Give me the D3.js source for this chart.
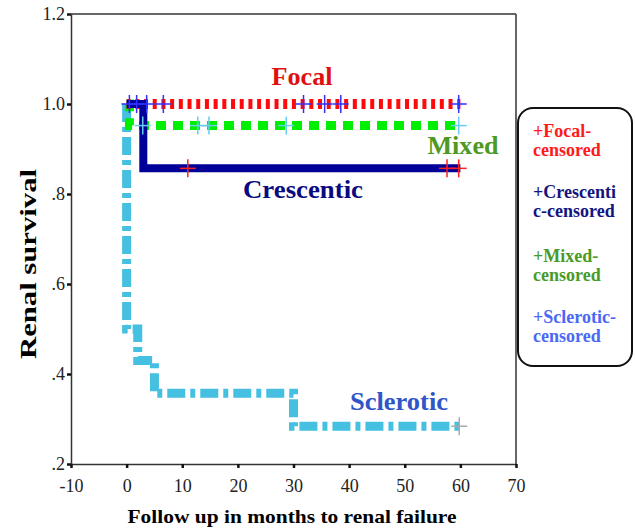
<!DOCTYPE html>
<html>
<head>
<meta charset="utf-8">
<script src="https://cdn.jsdelivr.net/npm/d3@7"></script>
<style>
  body { margin: 0; background: #fff; }
  svg text { font-family: "Liberation Serif", "DejaVu Serif", "Times New Roman", serif; }
</style>
</head>
<body>
<div id="chart"></div>
<script>
// Kaplan-Meier steps (months, survival)
var focalTime = [0, 60],
    focalSurv = [1.0, 1.0];
var crescTime = [0, 3, 60],
    crescSurv = [1.0, 0.857, 0.857];
var mixedTime = [0, 0.5, 60],
    mixedSurv = [1.0, 0.952, 0.952];
var sclerTime = [0, 0, 2, 5, 30, 60],
    sclerSurv = [1.0, 0.5, 0.43, 0.357, 0.284, 0.284];

// censored marks (months)
var focalCensor = [0.5, 1.8, 3.6, 6.6, 31.8, 35.6, 38.5, 59.7];
var crescCensor = [11, 57.6, 59.7];
var mixedCensor = [2.9, 12.8, 14.8, 28.7, 59.7];
var sclerCensor = [59.8];

var xTicks = [-10, 0, 10, 20, 30, 40, 50, 60, 70];
var yTicks = [0.2, 0.4, 0.6, 0.8, 1.0, 1.2];
var yTickLabels = [".2", ".4", ".6", ".8", "1.0", "1.2"];

var legendLines = [
  ["+Focal-", "censored"],
  ["+Crescenti", "c-censored"],
  ["+Mixed-", "censored"],
  ["+Sclerotic-", "censored"]
];
var legendColors = ["#ff1a1a", "#141480", "#4a9a26", "#4a68f5"];

var SERIF = "'Liberation Serif', 'DejaVu Serif', 'Times New Roman', serif";
var W = 635, H = 528;

var svg = d3.select("#chart").append("svg")
    .attr("width", W)
    .attr("height", H)
    .attr("font-family", SERIF);

var x = d3.scaleLinear().domain([-10, 70]).range([71, 516]);
var y = d3.scaleLinear().domain([0.2, 1.2]).range([464, 14]);

// frame (top + right)
svg.append("line")
    .attr("x1", x(-10)).attr("x2", x(70))
    .attr("y1", y(1.2)).attr("y2", y(1.2))
    .attr("stroke", "#333").attr("stroke-width", 1.5);
svg.append("line")
    .attr("x1", x(70)).attr("x2", x(70))
    .attr("y1", y(1.2)).attr("y2", y(0.2))
    .attr("stroke", "#333").attr("stroke-width", 1.5);

// axes
var xAxis = svg.append("g")
    .attr("transform", "translate(0," + y(0.2) + ")")
    .call(d3.axisBottom(x).tickValues(xTicks).tickSize(4).tickSizeOuter(0)
      .tickFormat(function(d){ return String(d); }));
var yAxis = svg.append("g")
    .attr("transform", "translate(" + x(-10) + ",0)")
    .call(d3.axisLeft(y).tickValues(yTicks).tickSize(4).tickSizeOuter(0)
      .tickFormat(function(d, i){ return yTickLabels[i]; }));

[xAxis, yAxis].forEach(function(a){
  a.attr("font-family", SERIF).attr("font-size", 18);
  a.select(".domain").attr("stroke", "#333").attr("stroke-width", 1.5);
  a.selectAll(".tick line").attr("stroke", "#111").attr("stroke-width", 2.5);
  a.selectAll(".tick text").attr("fill", "#222");
});
xAxis.selectAll(".tick text").attr("y", 15);
yAxis.selectAll(".tick text").attr("x", -6);

// axis titles
svg.append("text")
    .attr("x", 292).attr("y", 523)
    .attr("text-anchor", "middle")
    .attr("font-weight", "bold")
    .attr("font-size", 19)
    .attr("textLength", 329)
    .attr("lengthAdjust", "spacingAndGlyphs")
    .text("Follow up in months to renal failure");

svg.append("text")
    .attr("transform", "translate(36,264) rotate(-90)")
    .attr("text-anchor", "middle")
    .attr("font-weight", "bold")
    .attr("font-size", 24)
    .attr("textLength", 190)
    .attr("lengthAdjust", "spacingAndGlyphs")
    .text("Renal survival");

// curves
var line = d3.line()
    .x(function(d){ return x(d[0]); })
    .y(function(d){ return y(d[1]); })
    .curve(d3.curveStepAfter);

function pts(t, s){ return t.map(function(d, i){ return [d, s[i]]; }); }

var g = svg.append("g").attr("fill", "none");

g.append("path")
    .attr("d", line(pts(sclerTime, sclerSurv)))
    .attr("stroke", "#45c0e0")
    .attr("stroke-width", 9)
    .attr("stroke-dasharray", "18,5,5,5");

g.append("path")
    .attr("d", line(pts(mixedTime, mixedSurv)))
    .attr("stroke", "#00ee00")
    .attr("stroke-width", 9)
    .attr("stroke-dasharray", "10,7");

g.append("path")
    .attr("d", line(pts(focalTime, focalSurv)))
    .attr("stroke", "#ff0a0a")
    .attr("stroke-width", 10)
    .attr("stroke-dasharray", "4,4.7");

g.append("path")
    .attr("d", line(pts(crescTime, crescSurv)))
    .attr("stroke", "#000099")
    .attr("stroke-width", 8)
    .attr("stroke-linejoin", "miter");

// censor marks
function plus(times, surv, color){
  var m = svg.append("g").attr("stroke", color).attr("stroke-width", 1.5);
  m.selectAll(".h").data(times).enter().append("line")
      .attr("x1", function(d){ return x(d) - 8; })
      .attr("x2", function(d){ return x(d) + 8; })
      .attr("y1", y(surv)).attr("y2", y(surv));
  m.selectAll(".v").data(times).enter().append("line")
      .attr("x1", function(d){ return x(d); })
      .attr("x2", function(d){ return x(d); })
      .attr("y1", y(surv) - 9).attr("y2", y(surv) + 9);
}
plus(focalCensor, 1.0, "#3030ff");
plus(crescCensor, 0.857, "#ff2020");
plus(mixedCensor, 0.952, "#66ccf0");
plus(sclerCensor, 0.284, "#aaaaaa");

// curve labels
var curveLabels = [
  { t: "Focal", cx: 302, by: 85, w: 61, c: "#e01010" },
  { t: "Mixed", cx: 463, by: 154, w: 71, c: "#4c9a22" },
  { t: "Crescentic", cx: 303, by: 198, w: 120, c: "#0a0a80" },
  { t: "Sclerotic", cx: 399, by: 410, w: 98, c: "#2f55c8" }
];
svg.selectAll(".clab").data(curveLabels).enter().append("text")
    .attr("x", function(d){ return d.cx; })
    .attr("y", function(d){ return d.by; })
    .attr("text-anchor", "middle")
    .attr("font-weight", "bold")
    .attr("font-size", 25)
    .attr("textLength", function(d){ return d.w; })
    .attr("lengthAdjust", "spacingAndGlyphs")
    .attr("fill", function(d){ return d.c; })
    .text(function(d){ return d.t; });

// legend
svg.append("rect")
    .attr("x", 518).attr("y", 108)
    .attr("width", 114).attr("height", 258)
    .attr("rx", 15).attr("ry", 15)
    .attr("fill", "#fff")
    .attr("stroke", "#111")
    .attr("stroke-width", 2);

var legendTop = [137, 198, 262, 323];
legendLines.forEach(function(lines, i){
  var t = svg.append("text")
      .attr("x", 533).attr("y", legendTop[i])
      .attr("font-weight", "bold")
      .attr("font-size", 18)
      .attr("fill", legendColors[i]);
  lines.forEach(function(s, j){
    t.append("tspan").attr("x", 533).attr("dy", j ? 19 : 0).text(s);
  });
});
</script>
</body>
</html>
